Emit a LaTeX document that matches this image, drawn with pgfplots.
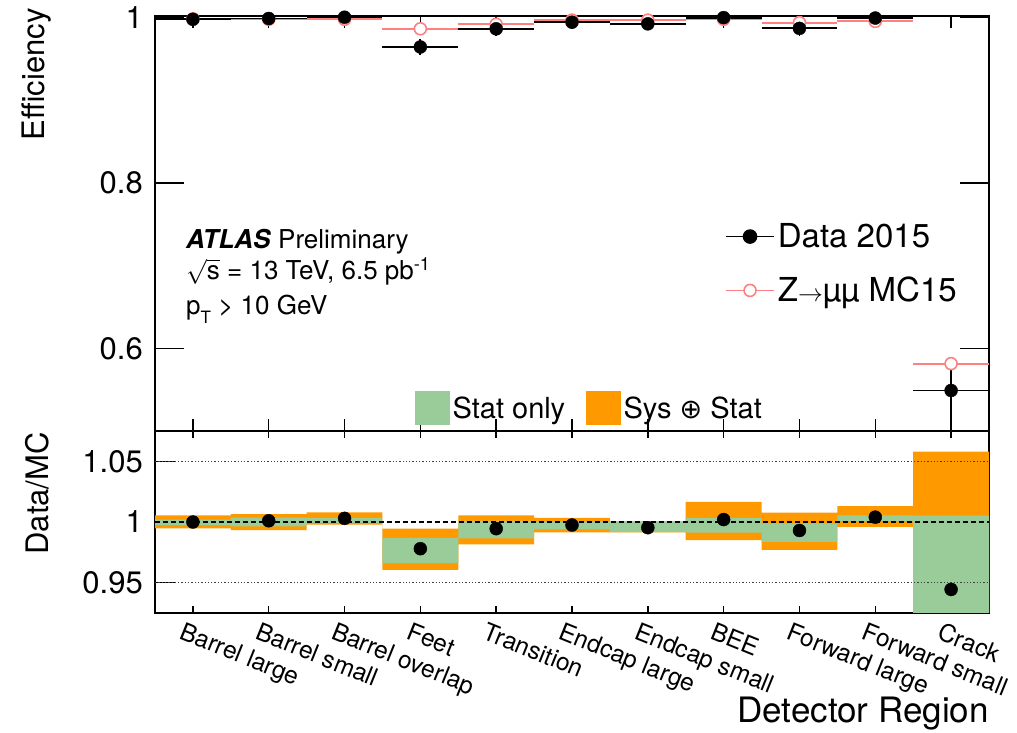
\documentclass[border=0pt]{standalone}
\usepackage{fontspec}
\setmainfont{TeX Gyre Heros}
\newfontfamily\dejavu{DejaVu Sans}
\usepackage{pgfplots}
\pgfplotsset{compat=1.18}
\usepackage{pgfplotstable}
\definecolor{statgreen}{RGB}{153,204,153}
\definecolor{sysorange}{RGB}{255,153,0}
\definecolor{mcred}{RGB}{255,128,128}

% bin centre, half width, data efficiency, data error, MC efficiency, data/MC ratio
\pgfplotstableread{
x    xe   data    derr   mc      ratio
0.5  0.5  0.998   0.009  0.9985  1.000
1.5  0.5  0.999   0.009  0.998   1.001
2.5  0.5  1.0005  0.009  0.998   1.003
3.5  0.5  0.9645  0.010  0.9865  0.978
4.5  0.5  0.9865  0.009  0.992   0.9945
5.5  0.5  0.9945  0.008  0.997   0.9975
6.5  0.5  0.9925  0.008  0.997   0.9953
7.5  0.5  1.000   0.009  0.998   1.002
8.5  0.5  0.987   0.009  0.994   0.993
9.5  0.5  0.9995  0.009  0.9955  1.004
10.5 0.5  0.549   0.034  0.5815  0.9444
}\efftable

\newcommand{\tfont}{\fontsize{31}{36}\selectfont}

\begin{document}
\begin{tikzpicture}
\useasboundingbox (0,0) rectangle (1017pt,733pt);
% ---------------- top panel ----------------
\begin{axis}[
  at={(155pt,302pt)}, anchor=south west,
  scale only axis, width=834pt, height=415pt,
  xmin=0, xmax=11, ymin=0.5, ymax=1.002,
  xtick={0.5,1.5,...,10.5}, xticklabels={},
  ytick={0.6,0.8,1},
  tick align=inside, xtick pos=both, ytick pos=both, yticklabel pos=left,
  minor tick num=0,
  xtick style={/pgfplots/major tick length=12pt, line width=1.4pt, black},
  ytick style={/pgfplots/major tick length=29pt, line width=1.4pt, black},
  axis line style={line width=1.6pt, black},
  /pgf/number format/assume math mode=true,
  yticklabel style={font=\tfont, inner sep=0pt, xshift=-12pt},
  ylabel={Efficiency},
  every axis y label/.style={at={(axis description cs:-0.1415,1.019)}, rotate=90, anchor=east, inner sep=0pt, font=\tfont},
  legend style={draw=none, fill=none, at={(0.6835,0.507)}, anchor=north west,
     font=\fontsize{33}{39}\selectfont, row sep=22pt, inner sep=0pt,
     nodes={inner sep=3pt}, cells={anchor=west}},
  legend image code/.code={\draw[mark repeat=2,mark phase=2,#1] plot coordinates {(0pt,0pt) (24pt,0pt) (48pt,0pt)};},
]
\addlegendimage{black, line width=1.6pt, mark=*, mark size=6.5pt}
\addlegendentry{Data 2015}
\addlegendimage{mcred, line width=1.6pt, mark=*, mark size=6pt, mark options={fill=white, draw=mcred}}
\addlegendentry{Z$\rightarrow$µµ MC15}

\addplot[only marks, mcred, mark=*, mark size=6pt,
  mark options={fill=white, draw=mcred, line width=1.6pt},
  error bars/.cd, x dir=both, x explicit, error mark=none,
  error bar style={line width=1.8pt, mcred}]
  table[x=x, y=mc, x error=xe] {\efftable};
\addplot[only marks, black, mark=*, mark size=6.5pt,
  error bars/.cd, x dir=both, x explicit, y dir=both, y explicit, error mark=none,
  error bar style={line width=1.8pt, black}]
  table[x=x, y=data, x error=xe, y error=derr] {\efftable};

\node[anchor=base west, font=\fontsize{26}{30}\selectfont, inner sep=0pt] at (rel axis cs:0.0372,0.4386) {\textbf{\textit{ATLAS}} Preliminary};
\node[anchor=base west, font=\fontsize{26}{30}\selectfont, inner sep=0pt] at (rel axis cs:0.0372,0.3639) {$\sqrt{\mbox{s}}$ = 13 TeV, 6.5 pb\textsuperscript{-1}};
\node[anchor=base west, font=\fontsize{26}{30}\selectfont, inner sep=0pt] at (rel axis cs:0.0372,0.2819) {p\raisebox{-0.35em}{\fontsize{17}{20}\selectfont T} > 10 GeV};
\end{axis}

% ---------------- ratio panel ----------------
\begin{axis}[
  at={(155pt,120pt)}, anchor=south west,
  scale only axis, width=834pt, height=182pt,
  xmin=0, xmax=11, ymin=0.925, ymax=1.075,
  xtick={0.5,1.5,...,10.5},
  xticklabels={Barrel large, Barrel small, Barrel overlap, Feet, Transition, Endcap large, Endcap small, BEE, Forward large, Forward small, Crack},
  ytick={0.95,1,1.05},
  tick align=inside, xtick pos=both, ytick pos=both, yticklabel pos=left, xticklabel pos=lower,
  minor tick num=0,
  xtick style={/pgfplots/major tick length=7pt, line width=1.4pt, black},
  ytick style={/pgfplots/major tick length=20pt, line width=1.4pt, black},
  axis line style={line width=1.6pt, black},
  /pgf/number format/assume math mode=true,
  yticklabel style={font=\tfont, inner sep=0pt, xshift=-12pt},
  xticklabel style={rotate=-22, anchor=north west, inner sep=0pt, xshift=-4pt, yshift=-11pt, font=\fontsize{24.5}{28}\selectfont},
  xlabel={Detector Region},
  every axis x label/.style={at={(rel axis cs:1,0)}, anchor=base east, yshift=-110pt, inner sep=0pt, font=\fontsize{35}{40}\selectfont},
  ylabel={Data/MC},
  every axis y label/.style={at={(axis description cs:-0.1415,0.9945)}, rotate=90, anchor=east, inner sep=0pt, font=\tfont},
  legend columns=2,
  legend style={draw=none, fill=none, at={(0.3118,1.1264)}, anchor=west,
     font=\fontsize{29}{34}\selectfont, inner sep=0pt, nodes={inner sep=3pt},
     /tikz/every even column/.append style={column sep=18pt}},
]
\addlegendimage{legend image code/.code={\fill[statgreen] (0pt,-16.5pt) rectangle (34pt,16.5pt);}}
\addlegendentry{Stat only}
\addlegendimage{legend image code/.code={\fill[sysorange] (0pt,-16.5pt) rectangle (34pt,16.5pt);}}
\addlegendentry{Sys {\dejavu\fontsize{27}{30}\selectfont ⊕} Stat}

% Sys (+) Stat band
\addplot[draw=none, fill=sysorange, forget plot] coordinates {
 (0,1.0055) (1,1.0055) (1,1.0064) (2,1.0064) (2,1.008) (3,1.008) (3,0.9945) (4,0.9945)
 (4,1.0055) (5,1.0055) (5,1.0033) (6,1.0033) (6,1.0005) (7,1.0005) (7,1.0165) (8,1.0165)
 (8,1.0077) (9,1.0077) (9,1.013) (10,1.013) (10,1.058) (11,1.058)
 (11,0.83) (10,0.83) (10,0.9959) (9,0.9959) (9,0.977) (8,0.977) (8,0.985) (7,0.985)
 (7,0.9915) (6,0.9915) (6,0.9915) (5,0.9915) (5,0.9816) (4,0.9816) (4,0.9606) (3,0.9606)
 (3,0.9978) (2,0.9978) (2,0.9934) (1,0.9934) (1,0.9948) (0,0.9948)
} -- cycle;
% Stat only band
\addplot[draw=none, fill=statgreen, forget plot] coordinates {
 (0,1.002) (1,1.002) (1,1.0036) (2,1.0036) (2,1.0033) (3,1.0033) (3,0.987) (4,0.987)
 (4,1.001) (5,1.001) (5,1.0003) (6,1.0003) (6,1.0) (7,1.0) (7,1.0033) (8,1.0033)
 (8,0.9989) (9,0.9989) (9,1.0055) (10,1.0055) (10,1.0052) (11,1.0052)
 (11,0.883) (10,0.883) (10,1.001) (9,1.001) (9,0.9837) (8,0.9837) (8,0.9912) (7,0.9912)
 (7,0.9917) (6,0.9917) (6,0.994) (5,0.994) (5,0.9865) (4,0.9865) (4,0.966) (3,0.966)
 (3,0.999) (2,0.999) (2,0.9964) (1,0.9964) (1,0.9975) (0,0.9975)
} -- cycle;

\addplot[black!75, line width=1.3pt, dotted, forget plot] coordinates {(0,1.05) (11,1.05)};
\addplot[black!75, line width=1.3pt, dotted, forget plot] coordinates {(0,0.95) (11,0.95)};
\addplot[black, line width=1.5pt, dash pattern=on 5pt off 3pt, forget plot] coordinates {(0,1) (11,1)};

\addplot[only marks, black, mark=*, mark size=6.5pt, forget plot]
  table[x=x, y=ratio] {\efftable};
\end{axis}
\end{tikzpicture}
\end{document}
